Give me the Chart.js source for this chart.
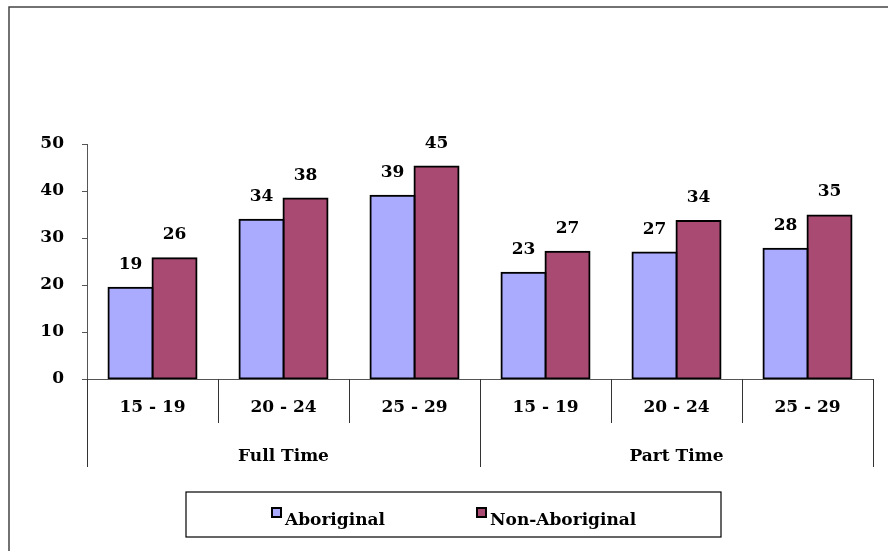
<!DOCTYPE html>
<html>
<head>
<meta charset="utf-8">
<script src="https://cdn.jsdelivr.net/npm/chart.js@4.4.1/dist/chart.umd.min.js"></script>
<style>
  html, body { margin: 0; padding: 0; background: #fff; }
  #wrap { width: 888px; height: 551px; position: relative; }
</style>
</head>
<body>
<div id="wrap"><canvas id="chart" width="888" height="551"></canvas></div>
<script>
// age groups along the bottom, two groups of three
const ageLabels = ['15 - 19', '20 - 24', '25 - 29', '15 - 19', '20 - 24', '25 - 29'];
const groupLabels = ['Full Time', 'Part Time'];
const groupSize = 3;

// percentages
const aboriginal = [19.4, 33.9, 39.0, 22.6, 26.9, 27.7];
const nonAboriginal = [25.7, 38.4, 45.2, 27.1, 33.6, 34.8];

const seriesNames = ['Aboriginal', 'Non-Aboriginal'];
const seriesColors = ['#AAAAFF', '#A94A73'];

const FONT = 'bold 17px "DejaVu Serif"';

// frame, category separators, group labels, value labels, legend box
const extras = {
  id: 'extras',
  beforeDraw(chart) {
    const c = chart.ctx;
    c.save();
    c.strokeStyle = '#444';
    c.lineWidth = 1.5;
    c.beginPath();
    c.moveTo(9, chart.height);
    c.lineTo(9, 7);
    c.lineTo(chart.width, 7);
    c.stroke();
    c.restore();
  },
  afterDatasetsDraw(chart) {
    const c = chart.ctx;
    const x = chart.scales.x;
    const area = chart.chartArea;
    c.save();
    c.strokeStyle = '#333';
    c.lineWidth = 1;
    // separators between categories
    for (let i = 0; i <= ageLabels.length; i++) {
      const px = Math.round(x.getPixelForValue(i - 0.5)) + 0.5;
      const outer = i % groupSize === 0;
      c.beginPath();
      c.moveTo(px, area.bottom);
      c.lineTo(px, area.bottom + (outer ? 88 : 44));
      c.stroke();
    }
    c.font = FONT;
    c.fillStyle = '#000';
    c.textAlign = 'center';
    c.textBaseline = 'alphabetic';
    // group labels
    groupLabels.forEach((g, gi) => {
      const l = x.getPixelForValue(gi * groupSize - 0.5);
      const r = x.getPixelForValue(gi * groupSize + groupSize - 0.5);
      c.fillText(g, (l + r) / 2, area.bottom + 82);
    });
    // value labels
    chart.data.datasets.forEach((ds, di) => {
      chart.getDatasetMeta(di).data.forEach((bar, i) => {
        c.fillText(String(Math.round(ds.data[i])), bar.x, bar.y - 19);
      });
    });
    // legend
    const box = { left: 186, top: 492, right: 721, bottom: 537 };
    c.strokeStyle = '#000';
    c.lineWidth = 1.2;
    c.strokeRect(box.left, box.top, box.right - box.left, box.bottom - box.top);
    const itemX = [272, 477];
    c.textAlign = 'left';
    seriesNames.forEach((n, i) => {
      c.fillStyle = seriesColors[i];
      c.fillRect(itemX[i], 508, 9, 9);
      c.strokeStyle = '#000';
      c.lineWidth = 2;
      c.strokeRect(itemX[i], 508, 9, 9);
      c.fillStyle = '#000';
      c.fillText(n, itemX[i] + 13, 525);
    });
    c.restore();
  }
};

new Chart(document.getElementById('chart'), {
  type: 'bar',
  data: {
    labels: ageLabels,
    datasets: seriesNames.map((n, i) => ({
      label: n,
      data: [aboriginal, nonAboriginal][i],
      backgroundColor: seriesColors[i],
      borderColor: '#000',
      borderWidth: 2,
      borderSkipped: false,
      inflateAmount: 1,
      categoryPercentage: 0.672,
      barPercentage: 1
    }))
  },
  options: {
    responsive: false,
    animation: false,
    devicePixelRatio: 1,
    layout: { padding: { top: 144, right: 15, left: 0, bottom: 0 } },
    plugins: { legend: { display: false }, tooltip: { enabled: false } },
    scales: {
      x: {
        afterFit(s) { s.height = 172; },
        grid: { display: false, drawTicks: false },
        border: { display: true, color: '#555', width: 1 },
        ticks: { color: '#000', font: { family: 'DejaVu Serif', size: 17, weight: 'bold' }, padding: 18, maxRotation: 0 }
      },
      y: {
        min: 0, max: 50,
        afterFit(s) { s.width = 87; },
        grid: { drawOnChartArea: false, drawTicks: true, tickLength: 5, color: '#555' },
        border: { display: true, color: '#555', width: 1 },
        ticks: { stepSize: 10, color: '#000', font: { family: 'DejaVu Serif', size: 17, weight: 'bold' }, padding: 18 }
      }
    }
  },
  plugins: [extras]
});
</script>
</body>
</html>
